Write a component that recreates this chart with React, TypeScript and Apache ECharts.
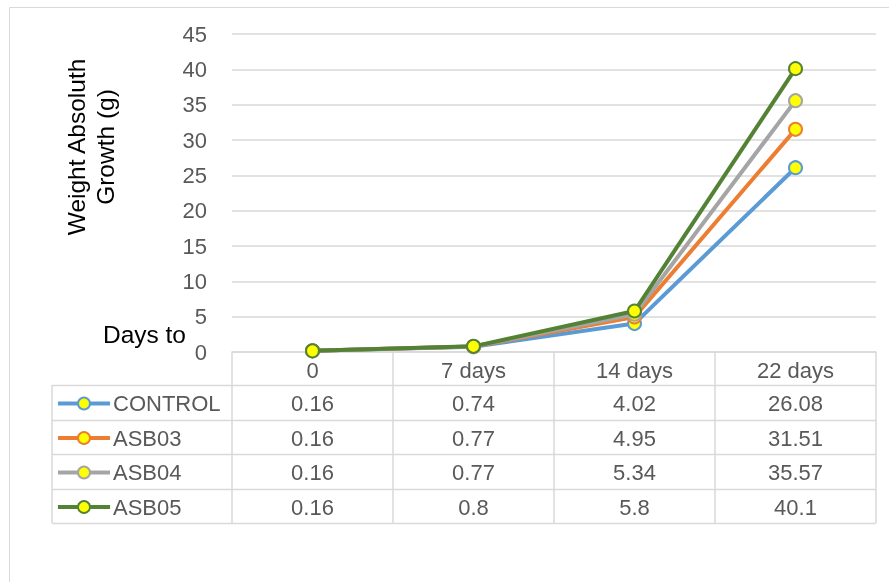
import React, { useEffect, useRef } from "react";
import * as echarts from "echarts";

const categories = ["0", "7 days", "14 days", "22 days"];
const seriesNames = ["CONTROL", "ASB03", "ASB04", "ASB05"];
const control = [0.16, 0.74, 4.02, 26.08];
const asb03 = [0.16, 0.77, 4.95, 31.51];
const asb04 = [0.16, 0.77, 5.34, 35.57];
const asb05 = [0.16, 0.8, 5.8, 40.1];
const seriesValues = [control, asb03, asb04, asb05];
const colors = ["#5B9BD5", "#ED7D31", "#A5A5A5", "#548235"];
const yMin = 0;
const yMax = 45;
const yInterval = 5;
const yAxisName = ["Weight Absoluth", "Growth (g)"];
const cornerLabel = "Days to";

const FONT = "'Liberation Sans', Arial, sans-serif";
const GRAY = "#595959";
const LINE = "#d9d9d9";
const LABEL_SIZE = 22;
const TITLE_SIZE = 24.5;

export default function App() {
  const ref = useRef<HTMLDivElement>(null);
  useEffect(() => {
    document.body.style.margin = "0";
    const chart = echarts.init(ref.current!, null, { renderer: "svg" });
    const option: any = {
      animation: false,
      grid: { left: 232, right: 13, top: 34, bottom: 230, containLabel: false },
      xAxis: {
        type: "category",
        data: categories,
        boundaryGap: true,
        axisLine: { show: true, lineStyle: { color: LINE, width: 1.5 } },
        axisTick: { show: true, alignWithLabel: false, length: 33, lineStyle: { color: LINE, width: 1.5 } },
        axisLabel: { fontSize: LABEL_SIZE, color: GRAY, fontFamily: FONT, margin: 7 },
        splitLine: { show: false },
      },
      yAxis: {
        type: "value",
        min: yMin,
        max: yMax,
        interval: yInterval,
        axisLine: { show: false },
        axisTick: { show: false },
        axisLabel: { fontSize: LABEL_SIZE, color: GRAY, fontFamily: FONT, margin: 25 },
        splitLine: { lineStyle: { color: LINE, width: 1.5 } },
      },
      series: seriesNames.map((name, i) => ({
        name,
        type: "line",
        data: seriesValues[i],
        color: colors[i],
        lineStyle: { color: colors[i], width: 4 },
        symbol: "circle",
        symbolSize: 13,
        showSymbol: true,
        itemStyle: { color: "#FFFF00", borderColor: colors[i], borderWidth: 2 },
        z: 2 + i,
      })),
    };
    chart.setOption(option);

    const xs = categories.map((_, i) => chart.convertToPixel({ xAxisIndex: 0 }, i) as number);
    const half = (xs[1] - xs[0]) / 2;
    const tableLeft = 52;
    const colEdges = [tableLeft, xs[0] - half, ...xs.map((x) => x + half)];
    const rowEdges = [385, 420, 454, 489, 523];
    const right = colEdges[colEdges.length - 1];

    const g: any[] = [];
    g.push({
      type: "rect",
      shape: { x: 9.5, y: 7.5, width: 900, height: 600 },
      style: { fill: "none", stroke: LINE, lineWidth: 1 },
      silent: true,
    });
    rowEdges.forEach((y) => {
      g.push({
        type: "line",
        shape: { x1: tableLeft, y1: y + 0.5, x2: right, y2: y + 0.5 },
        style: { stroke: LINE, lineWidth: 1.5 },
      });
    });
    colEdges.forEach((x) => {
      g.push({
        type: "line",
        shape: { x1: x, y1: rowEdges[0], x2: x, y2: rowEdges[rowEdges.length - 1] },
        style: { stroke: LINE, lineWidth: 1.5 },
      });
    });
    seriesNames.forEach((name, r) => {
      const cy = (rowEdges[r] + rowEdges[r + 1]) / 2 + 1;
      g.push({
        type: "line",
        shape: { x1: 58, y1: cy, x2: 110, y2: cy },
        style: { stroke: colors[r], lineWidth: 4 },
      });
      g.push({
        type: "circle",
        shape: { cx: 84, cy, r: 6 },
        style: { fill: "#FFFF00", stroke: colors[r], lineWidth: 2 },
      });
      g.push({
        type: "text",
        x: 113,
        y: cy,
        style: { text: name, fontSize: LABEL_SIZE, fontFamily: FONT, fill: GRAY, align: "left", verticalAlign: "middle" },
      });
      seriesValues[r].forEach((v, c) => {
        g.push({
          type: "text",
          x: xs[c],
          y: cy,
          style: { text: String(v), fontSize: LABEL_SIZE, fontFamily: FONT, fill: GRAY, align: "center", verticalAlign: "middle" },
        });
      });
    });
    yAxisName.forEach((t, i) => {
      g.push({
        type: "text",
        x: 76.5 + i * 29,
        y: 147,
        rotation: Math.PI / 2,
        style: { text: t, fontSize: TITLE_SIZE, fontFamily: FONT, fill: "#000000", align: "center", verticalAlign: "middle" },
      });
    });
    g.push({
      type: "text",
      x: 186,
      y: 334.5,
      style: { text: cornerLabel, fontSize: TITLE_SIZE, fontFamily: FONT, fill: "#000000", align: "right", verticalAlign: "middle" },
    });
    chart.setOption({ graphic: g });

    return () => chart.dispose();
  }, []);
  return <div ref={ref} style={{ position: "fixed", left: 0, top: 0, width: 889, height: 582 }} />;
}
